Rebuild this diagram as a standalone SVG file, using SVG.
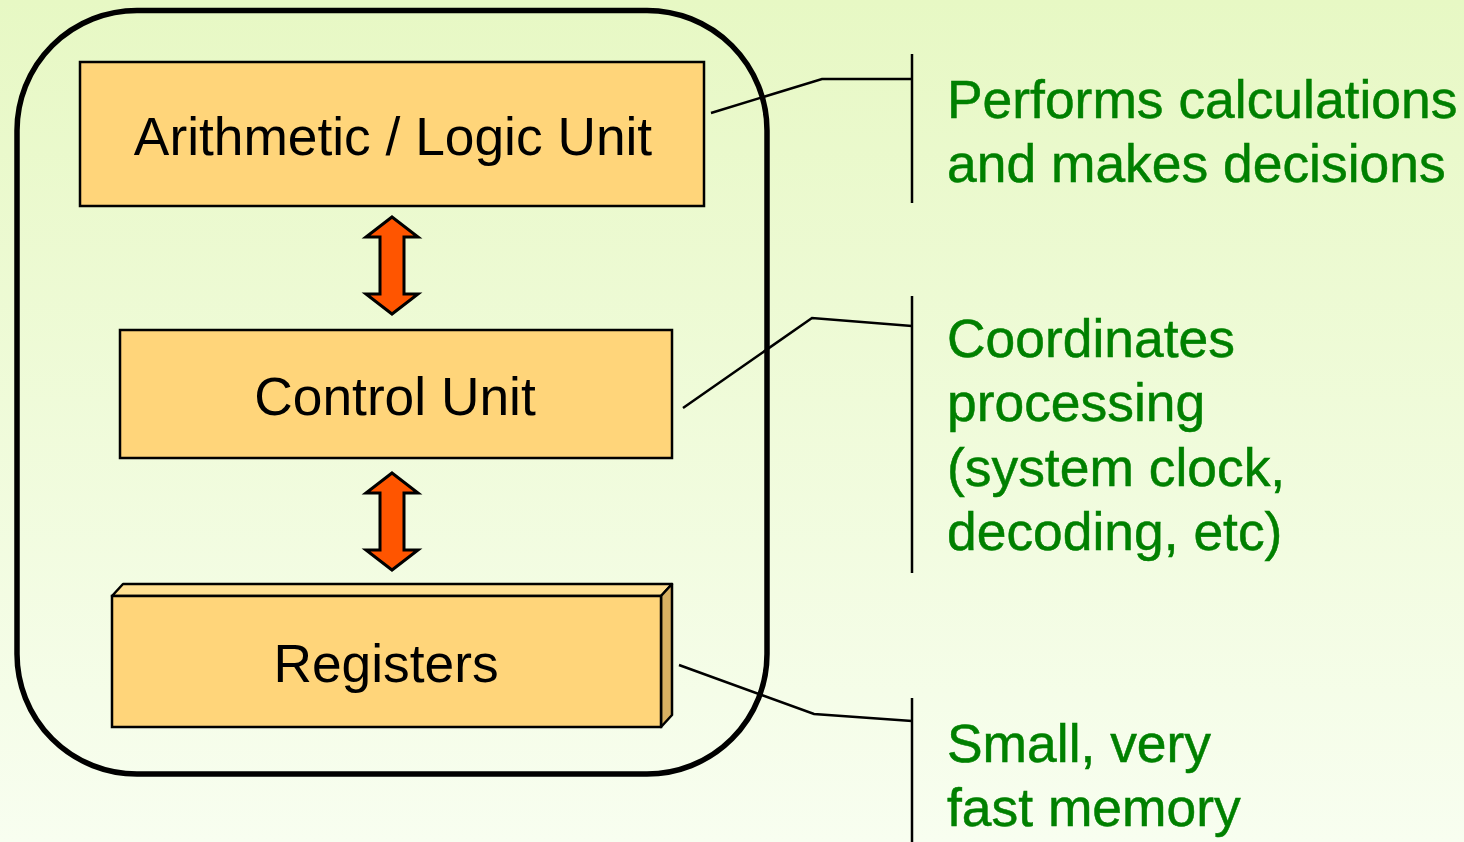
<svg xmlns="http://www.w3.org/2000/svg" width="1464" height="842" viewBox="0 0 1464 842">
  <defs>
    <linearGradient id="bg" x1="0" y1="0" x2="0" y2="1">
      <stop offset="0" stop-color="#E7F8C4"/>
      <stop offset="1" stop-color="#F8FEF0"/>
    </linearGradient>
    <!-- vertical double-headed arrow, centred on x=0, from y=0 to y=97 -->
    <path id="dblArrow" d="M0,0 L26,20 L12,20 L12,77 L26,77 L0,97 L-26,77 L-12,77 L-12,20 L-26,20 Z"/>
  </defs>
  <style>
    .box { fill: #FFD57A; stroke: #000; stroke-width: 2.5; }
    .boxTop { fill: #FFDF92; stroke: #000; stroke-width: 2.5; stroke-linejoin: round; }
    .boxSide { fill: #D8B062; stroke: #000; stroke-width: 2.5; stroke-linejoin: round; }
    .label { font-family: "Liberation Sans", Arial, sans-serif; font-size: 53.3px; fill: #000; text-anchor: middle; }
    .note { font-family: "Liberation Sans", Arial, sans-serif; font-size: 53.4px; fill: #008000; stroke: #008000; stroke-width: 0.5; }
    .leader { fill: none; stroke: #000; stroke-width: 2.5; }
    .arrow { fill: #FF5500; stroke: #000; stroke-width: 3; stroke-linejoin: miter; }
  </style>

  <rect width="1464" height="842" fill="url(#bg)"/>

  <!-- CPU outline -->
  <g id="cpu">
    <rect x="17" y="10.5" width="750" height="763.5" rx="120" ry="120" fill="none" stroke="#000" stroke-width="5.5"/>
  </g>

  <g id="alu">
    <rect class="box" x="80" y="62" width="624" height="144"/>
    <text class="label" x="393" y="155">Arithmetic / Logic Unit</text>
  </g>

  <g id="control-unit">
    <rect class="box" x="120" y="330" width="552" height="128"/>
    <text class="label" x="395" y="415">Control Unit</text>
  </g>

  <g id="registers">
    <polygon class="boxTop" points="112,596 123,584 672,584 661,596"/>
    <polygon class="boxSide" points="661,596 672,584 672,715 661,727"/>
    <rect class="box" x="112" y="596" width="549" height="131"/>
    <text class="label" x="386" y="682">Registers</text>
  </g>

  <g id="connectors">
    <use href="#dblArrow" class="arrow" x="392" y="217"/>
    <use href="#dblArrow" class="arrow" x="392" y="473"/>
    <polyline class="leader" points="711,113 822,79 912,79"/>
    <line class="leader" x1="912" y1="54" x2="912" y2="203"/>
    <polyline class="leader" points="683,408 812,318 912,326"/>
    <line class="leader" x1="912" y1="296" x2="912" y2="573"/>
    <polyline class="leader" points="679,665 814,714 912,721"/>
    <line class="leader" x1="912" y1="698" x2="912" y2="842"/>
  </g>

  <g id="note-alu">
    <text class="note" x="947" y="118">Performs calculations</text>
    <text class="note" x="947" y="182">and makes decisions</text>
  </g>

  <g id="note-control">
    <text class="note" x="947" y="357">Coordinates</text>
    <text class="note" x="947" y="421">processing</text>
    <text class="note" x="947" y="486">(system clock,</text>
    <text class="note" x="947" y="550">decoding, etc)</text>
  </g>

  <g id="note-registers">
    <text class="note" x="947" y="762">Small, very</text>
    <text class="note" x="947" y="826">fast memory</text>
  </g>
</svg>
